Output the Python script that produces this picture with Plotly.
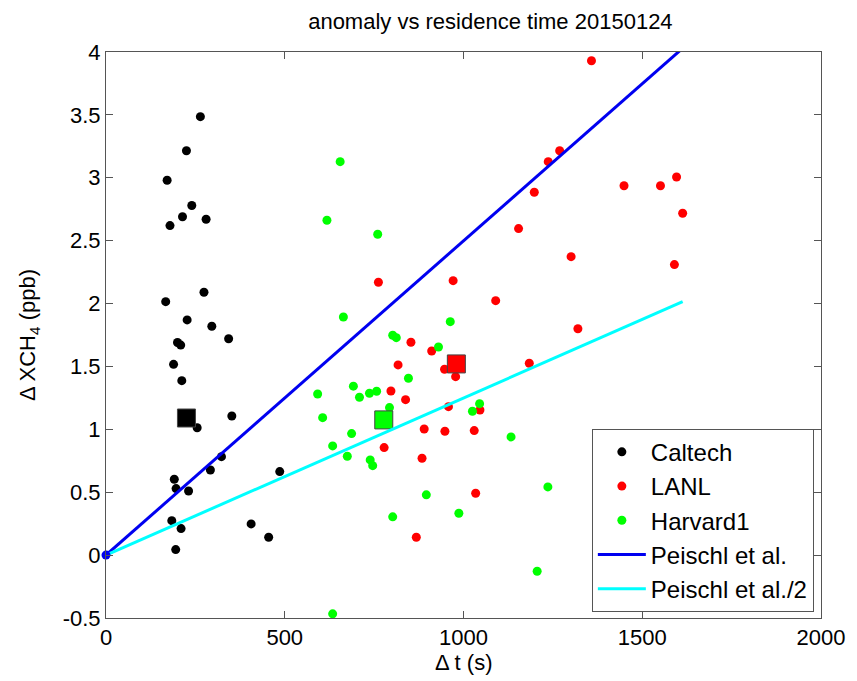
import plotly.graph_objects as go

# ---- data ----
caltech_t = [264, 225, 171, 240, 214, 179, 280, 274, 167, 227, 296, 343, 200, 209,
             189, 212, 352, 255, 323, 292, 191, 196, 231, 486, 184, 210, 406, 455, 195]
caltech_a = [3.486, 3.215, 2.98, 2.78, 2.69, 2.62, 2.67, 2.09, 2.015, 1.87, 1.82, 1.72, 1.69, 1.67,
             1.517, 1.387, 1.106, 1.013, 0.783, 0.677, 0.603, 0.529, 0.51, 0.664, 0.274, 0.211, 0.248, 0.142, 0.044]

lanl_t = [1358, 1269, 1237, 1198, 1154, 1449, 1551, 1596, 1613, 1301, 1590, 1320, 762, 971, 1090, 853,
          911, 817, 947, 978, 1184, 797, 838, 958, 1046, 890, 948, 1030, 778, 884, 1034, 868]
lanl_a = [3.93, 3.215, 3.128, 2.885, 2.596, 2.937, 2.937, 3.006, 2.718, 2.373, 2.31, 1.80, 2.169, 2.182, 2.023, 1.692,
          1.623, 1.512, 1.478, 1.419, 1.525, 1.305, 1.236, 1.18, 1.154, 1.003, 0.985, 0.99, 0.855, 0.77, 0.492, 0.142]

harvard_t = [655, 618, 760, 664, 963, 802, 812, 930, 846, 692, 709, 737, 757, 793, 1045,
             1025, 687, 1133, 675, 739, 746, 1236, 896, 987, 802, 1206, 592, 606, 634, 634]
harvard_a = [3.128, 2.662, 2.551, 1.893, 1.856, 1.748, 1.729, 1.655, 1.406, 1.343, 1.255, 1.287, 1.303, 1.173, 1.204,
             1.144, 0.966, 0.94, 0.786, 0.757, 0.711, 0.542, 0.479, 0.333, 0.304, -0.128, 1.281, 1.093, 0.868, -0.467]

# summary squares (Caltech, LANL, Harvard1)
summary_t = [225, 980, 777]
summary_a = [1.09, 1.52, 1.075]

# reference lines
line_t = [0, 1613]
peischl_a = [0, 4.03]
peischl_half_a = [0, 2.015]

x_tickvals = [0, 500, 1000, 1500, 2000]
x_ticktext = ["0", "500", "1000", "1500", "2000"]
y_tickvals = [-0.5, 0, 0.5, 1, 1.5, 2, 2.5, 3, 3.5, 4]
y_ticktext = ["-0.5", "0", "0.5", "1", "1.5", "2", "2.5", "3", "3.5", "4"]

FONT = "Liberation Sans, Arial, sans-serif"
BLUE = "#0000f0"
CYAN = "#00ffff"
sq_colors = ["#000000", "#ff0000", "#00ff00"]

fig = go.Figure()

fig.add_trace(go.Scatter(x=caltech_t, y=caltech_a, mode="markers", name="Caltech",
                         marker=dict(color="#000000", size=9, line=dict(width=0))))
fig.add_trace(go.Scatter(x=lanl_t, y=lanl_a, mode="markers", name="LANL",
                         marker=dict(color="#ff0000", size=9, line=dict(width=0))))
fig.add_trace(go.Scatter(x=harvard_t, y=harvard_a, mode="markers", name="Harvard1",
                         marker=dict(color="#00ff00", size=9, line=dict(width=0))))

fig.add_trace(go.Scatter(x=summary_t, y=summary_a, mode="markers", showlegend=False,
                         marker=dict(symbol="square", size=18, color=sq_colors,
                                     line=dict(color="#444444", width=1))))

fig.add_trace(go.Scatter(x=line_t, y=peischl_a, mode="lines", name="Peischl et al.",
                         line=dict(color=BLUE, width=3)))
fig.add_trace(go.Scatter(x=line_t, y=peischl_half_a, mode="lines", name="Peischl et al./2",
                         line=dict(color=CYAN, width=3)))

fig.add_trace(go.Scatter(x=[line_t[0]], y=[peischl_a[0]], mode="markers", showlegend=False,
                         cliponaxis=False, marker=dict(color=BLUE, size=9)))

axis_common = dict(showgrid=False, zeroline=False, showline=True, linecolor="#555555",
                   linewidth=1, mirror="allticks", ticks="inside", ticklen=7,
                   tickcolor="#555555", tickfont=dict(family=FONT, size=22, color="#000000"))

fig.update_layout(
    width=857, height=681,
    margin=dict(l=106, r=33, t=52, b=63),
    paper_bgcolor="white", plot_bgcolor="white",
    font=dict(family=FONT, color="#000000"),
    title=dict(text="anomaly vs residence time 20150124", x=(492 - 106) / 718, xref="paper",
               y=1 - 21 / 681, yref="container", xanchor="center", yanchor="middle",
               font=dict(family=FONT, size=22, color="#000000")),
    xaxis=dict(range=[0, 2000], tickvals=x_tickvals, ticktext=x_ticktext, **axis_common),
    yaxis=dict(range=[-0.5, 4], tickvals=y_tickvals, ticktext=y_ticktext,
               title=dict(text="\u0394 XCH<sub>4</sub> (ppb)", font=dict(family=FONT, size=22), standoff=20),
               **axis_common),
    legend=dict(x=0.99, y=0.011, xanchor="right", yanchor="bottom",
                bgcolor="white", bordercolor="#555555", borderwidth=1,
                font=dict(family=FONT, size=24, color="#000000"),
                itemwidth=48, tracegroupgap=0),
    showlegend=True,
    annotations=[dict(text="\u0394 t (s)", xref="paper", yref="paper", x=0.5,
                      y=-(663 - 618) / 566, xanchor="center", yanchor="middle",
                      showarrow=False, font=dict(family=FONT, size=22, color="#000000"))],
)

fig.write_html("out.html", config={"displayModeBar": False},
               post_script="document.body.style.margin='0';")
